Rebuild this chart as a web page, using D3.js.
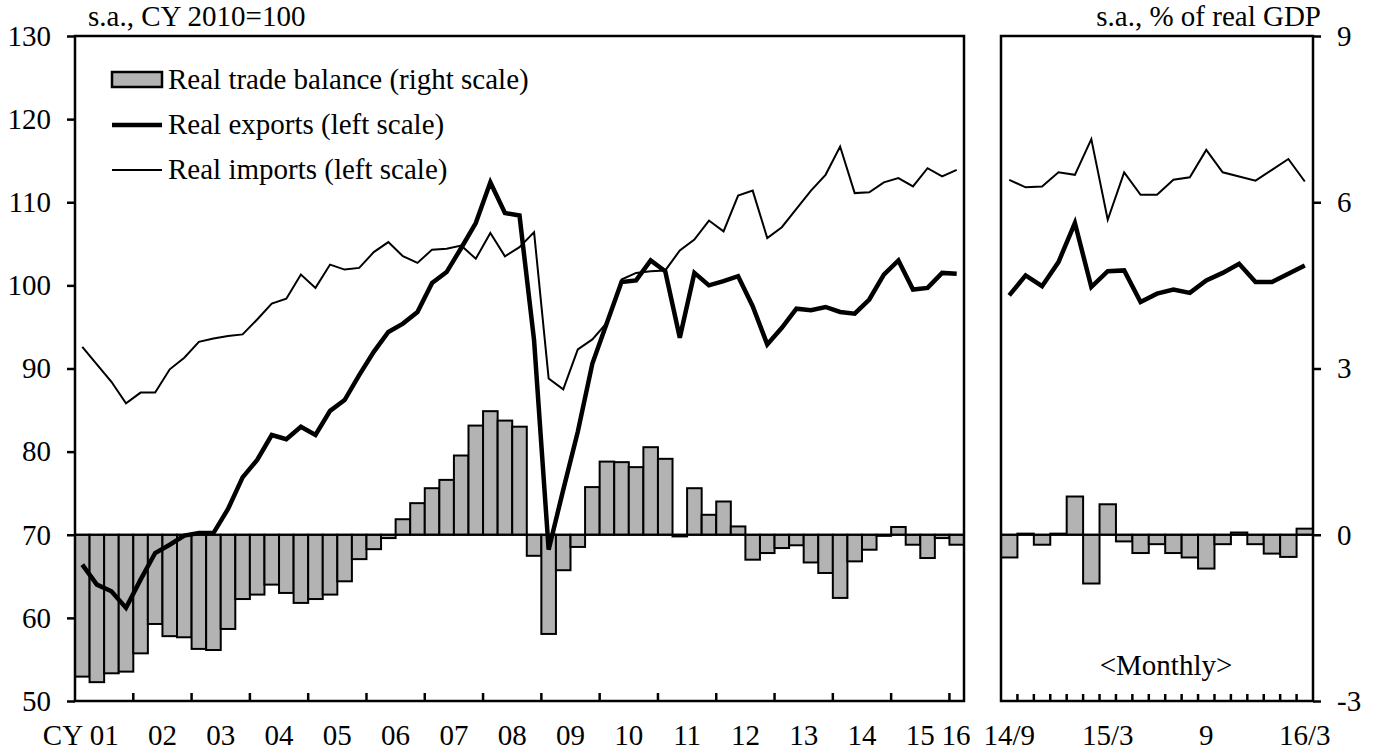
<!DOCTYPE html>
<html>
<head>
<meta charset="utf-8">
<script src="https://cdnjs.cloudflare.com/ajax/libs/d3/7.8.5/d3.min.js"></script>
<style>
    body { margin: 0; background: #fff; }
    text { font-family: "Liberation Serif", "Times New Roman", serif; font-size: 29px; fill: #000; }
</style>
</head>
<body>
<script>

//Quarterly categories, CY2001 Q1 to CY2016 Q1
var years = ["01","02","03","04","05","06","07","08","09","10","11","12","13","14","15","16"];
var quarters = [];
years.forEach(function(y) {
    ["Q1","Q2","Q3","Q4"].forEach(function(q) {
        if (y != "16" || q == "Q1") quarters.push(y + q);
    });
});

//Real trade balance, % of real GDP (right scale)
var balanceQ = [-2.56, -2.66, -2.50, -2.47, -2.14, -1.61, -1.83, -1.85, -2.06, -2.08,
                -1.70, -1.16, -1.08, -0.90, -1.05, -1.23, -1.16, -1.08, -0.84, -0.44,
                -0.26, -0.06, 0.28, 0.57, 0.84, 0.99, 1.43, 1.97, 2.23, 2.06,
                1.95, -0.38, -1.79, -0.64, -0.22, 0.86, 1.32, 1.31, 1.22, 1.58,
                1.37, -0.03, 0.84, 0.36, 0.60, 0.15, -0.45, -0.33, -0.24, -0.19,
                -0.50, -0.69, -1.14, -0.48, -0.27, -0.02, 0.14, -0.18, -0.42, -0.06,
                -0.18];

//Real exports, CY2010=100 (left scale)
var exportsQ = [66.4, 64.0, 63.2, 61.2, 64.6, 67.8, 68.8, 69.9, 70.2, 70.2,
                73.1, 76.9, 79.0, 82.0, 81.5, 83.0, 82.0, 84.9, 86.2, 89.2,
                92.0, 94.4, 95.4, 96.8, 100.3, 101.6, 104.5, 107.5, 112.4, 108.7,
                108.4, 93.4, 68.2, 75.4, 82.4, 90.6, 95.5, 100.4, 100.6, 103.0,
                101.7, 93.7, 101.5, 100.0, 100.5, 101.1, 97.5, 92.9, 94.9, 97.2,
                97.0, 97.4, 96.8, 96.6, 98.3, 101.3, 103.0, 99.5, 99.7, 101.5,
                101.4];

//Real imports, CY2010=100 (left scale)
var importsQ = [92.6, 90.5, 88.4, 85.8, 87.1, 87.1, 89.9, 91.3, 93.2, 93.6,
                93.9, 94.1, 95.9, 97.8, 98.4, 101.3, 99.7, 102.5, 101.9, 102.1,
                104.0, 105.2, 103.5, 102.7, 104.3, 104.4, 104.8, 103.2, 106.3, 103.5,
                104.6, 106.4, 88.8, 87.5, 92.3, 93.5, 95.5, 100.7, 101.5, 101.7,
                101.8, 104.2, 105.5, 107.8, 106.5, 110.8, 111.4, 105.7, 107.0, 109.2,
                111.4, 113.3, 116.7, 111.1, 111.2, 112.4, 112.9, 111.9, 114.1, 113.1,
                113.9];

//Monthly categories, 2014/9 to 2016/3
var months = ["14/9","14/10","14/11","14/12","15/1","15/2","15/3","15/4","15/5","15/6",
              "15/7","15/8","15/9","15/10","15/11","15/12","16/1","16/2","16/3"];
var monthLabels = {"14/9": "14/9", "15/3": "15/3", "15/9": "9", "16/3": "16/3"};

var balanceM = [-0.41, 0.02, -0.18, 0.02, 0.69, -0.88, 0.55, -0.12, -0.33, -0.17,
                -0.33, -0.41, -0.61, -0.17, 0.04, -0.17, -0.34, -0.40, 0.11];
var exportsM = [98.8, 101.2, 99.9, 102.8, 107.5, 99.8, 101.7, 101.8, 98.0, 99.0,
                99.5, 99.1, 100.6, 101.5, 102.6, 100.4, 100.4, 101.4, 102.4];
var importsM = [112.7, 111.8, 111.9, 113.6, 113.3, 117.6, 107.9, 113.6, 110.9, 110.9,
                112.7, 113.0, 116.3, 113.6, 113.1, 112.6, 113.9, 115.2, 112.5];

var leftTicks = [50, 60, 70, 80, 90, 100, 110, 120, 130];
var rightTicks = [-3, 0, 3, 6, 9];

//Layout
var w = 1379, h = 753;
var plotTop = 36, plotBottom = 701;
var leftPanel = [75, 964];
var rightPanel = [1001, 1313];
var grey = "#b3b3b3";

var svg = d3.select("body")
            .append("svg")
            .attr("width", w)
            .attr("height", h);

//Scales
var yLeft = d3.scaleLinear().domain([50, 130]).range([plotBottom, plotTop]);
var yRight = d3.scaleLinear().domain([-3, 9]).range([plotBottom, plotTop]);

var xQ = d3.scaleBand().domain(quarters).range(leftPanel).padding(0);
var xM = d3.scaleBand().domain(months).range(rightPanel).padding(0);

//Draw one panel: bars, zero line, two lines
function drawPanel(x, cats, bal, exp, imp) {

    var g = svg.append("g");

    g.selectAll("rect.bar")
        .data(bal)
        .enter()
        .append("rect")
        .attr("class", "bar")
        .attr("x", function(d, i) { return x(cats[i]); })
        .attr("width", x.bandwidth())
        .attr("y", function(d) { return yRight(Math.max(0, d)); })
        .attr("height", function(d) { return Math.abs(yRight(d) - yRight(0)); })
        .style("fill", grey)
        .style("stroke", "#000")
        .style("stroke-width", 2);

    //Zero line of the right scale
    g.append("line")
        .attr("x1", x.range()[0])
        .attr("x2", x.range()[1])
        .attr("y1", yRight(0))
        .attr("y2", yRight(0))
        .style("stroke", "#000")
        .style("stroke-width", 2);

    var line = d3.line()
        .x(function(d, i) { return x(cats[i]) + x.bandwidth() / 2; })
        .y(function(d) { return yLeft(d); });

    g.append("path")
        .datum(imp)
        .attr("d", line)
        .style("fill", "none")
        .style("stroke", "#000")
        .style("stroke-width", 2)
        .style("stroke-linejoin", "miter");

    g.append("path")
        .datum(exp)
        .attr("d", line)
        .style("fill", "none")
        .style("stroke", "#000")
        .style("stroke-width", 4.5)
        .style("stroke-linejoin", "miter");

    //Frame
    g.append("rect")
        .attr("x", x.range()[0])
        .attr("y", plotTop)
        .attr("width", x.range()[1] - x.range()[0])
        .attr("height", plotBottom - plotTop)
        .style("fill", "none")
        .style("stroke", "#000")
        .style("stroke-width", 2.5);

    return g;
}

drawPanel(xQ, quarters, balanceQ, exportsQ, importsQ);
drawPanel(xM, months, balanceM, exportsM, importsM);

//Axis styling helper
function styleAxis(sel) {
    sel.select(".domain").remove();
    sel.selectAll("line").style("stroke", "#000").style("stroke-width", 2.5);
    sel.selectAll("text")
        .style("font-family", "'Liberation Serif', 'Times New Roman', serif")
        .style("font-size", "29px")
        .style("fill", "#000");
}

//Plain hyphen for negatives, as in the original
var plain = function(d) { return String(d); };

//Left axis
svg.append("g")
    .attr("transform", "translate(" + leftPanel[0] + ",0)")
    .call(d3.axisLeft(yLeft).tickValues(leftTicks).tickSize(8).tickPadding(16).tickFormat(plain))
    .call(styleAxis);

//Right axis
svg.append("g")
    .attr("transform", "translate(" + rightPanel[1] + ",0)")
    .call(d3.axisRight(yRight).tickValues(rightTicks).tickSize(8).tickPadding(16).tickFormat(plain))
    .call(styleAxis);

//Year boundary ticks, pointing inward
var yearStarts = quarters.filter(function(q, i) { return i > 0 && q.slice(2) == "Q1"; });
svg.append("g")
    .attr("transform", "translate(0," + plotBottom + ")")
    .call(d3.axisBottom(xQ).tickValues(yearStarts).tickSize(-8).tickFormat("").offset(0))
    .call(styleAxis)
    .selectAll(".tick")
    .attr("transform", function(d) { return "translate(" + xQ(d) + ",0)"; });

//Month boundary ticks, pointing inward
svg.append("g")
    .attr("transform", "translate(0," + plotBottom + ")")
    .call(d3.axisBottom(xM).tickValues(months.slice(1)).tickSize(-7).tickFormat("").offset(0))
    .call(styleAxis)
    .selectAll(".tick")
    .attr("transform", function(d) { return "translate(" + xM(d) + ",0)"; });

//Year labels, centred on each year
svg.selectAll("text.year")
    .data(years)
    .enter()
    .append("text")
    .attr("class", "year")
    .attr("x", function(y) {
        var qs = quarters.filter(function(q) { return q.slice(0, 2) == y; });
        var x0 = xQ(qs[0]), x1 = xQ(qs[qs.length - 1]) + xQ.bandwidth();
        return y == "16" ? x1 - 8 : (x0 + x1) / 2;
    })
    .attr("y", 745)
    .attr("text-anchor", "middle")
    .text(function(y) { return y; });

svg.append("text")
    .attr("x", xQ("01Q1") + 2 * xQ.bandwidth() - 21)
    .attr("y", 745)
    .attr("text-anchor", "end")
    .text("CY");

//Month labels
svg.selectAll("text.month")
    .data(months.filter(function(m) { return monthLabels[m]; }))
    .enter()
    .append("text")
    .attr("class", "month")
    .attr("x", function(m) { return xM(m) + xM.bandwidth() / 2; })
    .attr("y", 745)
    .attr("text-anchor", "middle")
    .text(function(m) { return monthLabels[m]; });

//Unit titles
svg.append("text")
    .attr("x", 88)
    .attr("y", 26)
    .text("s.a., CY 2010=100");

svg.append("text")
    .attr("x", rightPanel[1] + 8)
    .attr("y", 26)
    .attr("text-anchor", "end")
    .text("s.a., % of real GDP");

svg.append("text")
    .attr("x", 1166)
    .attr("y", 675)
    .attr("text-anchor", "middle")
    .text("<Monthly>");

//Legend
var legend = svg.append("g").attr("transform", "translate(112,0)");

legend.append("rect")
    .attr("x", 0)
    .attr("y", 72)
    .attr("width", 50)
    .attr("height", 15)
    .style("fill", grey)
    .style("stroke", "#000")
    .style("stroke-width", 2.5);

legend.append("line")
    .attr("x1", 0).attr("x2", 50)
    .attr("y1", 125).attr("y2", 125)
    .style("stroke", "#000")
    .style("stroke-width", 4.5);

legend.append("line")
    .attr("x1", 0).attr("x2", 50)
    .attr("y1", 170).attr("y2", 170)
    .style("stroke", "#000")
    .style("stroke-width", 2);

var legendText = ["Real trade balance (right scale)", "Real exports (left scale)", "Real imports (left scale)"];
legend.selectAll("text")
    .data(legendText)
    .enter()
    .append("text")
    .attr("x", 56)
    .attr("y", function(d, i) { return 89 + i * 45; })
    .text(function(d) { return d; });

</script>
</body>
</html>
